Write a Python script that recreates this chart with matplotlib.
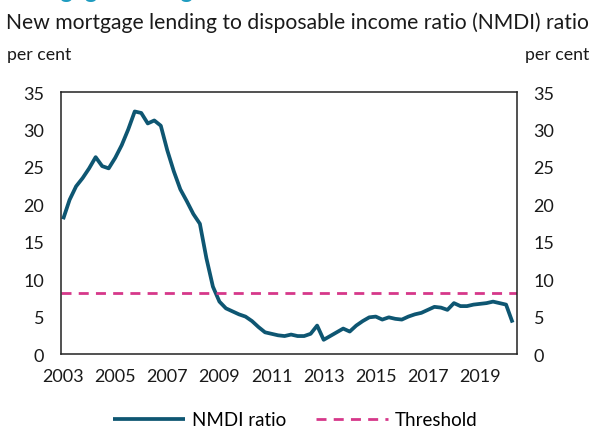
import matplotlib.pyplot as plt
import numpy as np

plt.rcParams['font.family'] = ['Lato', 'DejaVu Sans']

# quarterly, 2003Q1 .. 2020Q2
start_year = 2003
nmdi = [18.0, 20.6, 22.4, 23.5,
        24.8, 26.3, 25.1, 24.8,
        26.2, 27.9, 30.0, 32.4,
        32.2, 30.8, 31.2, 30.5,
        27.2, 24.4, 22.0, 20.4,
        18.7, 17.4, 12.8, 9.0,
        7.0, 6.1, 5.7, 5.3,
        5.0, 4.4, 3.6, 2.9,
        2.7, 2.5, 2.4, 2.6,
        2.4, 2.4, 2.7, 3.8,
        1.9, 2.4, 2.9, 3.4,
        3.0, 3.8, 4.4, 4.9,
        5.0, 4.6, 4.9, 4.7,
        4.6, 5.0, 5.3, 5.5,
        5.9, 6.3, 6.2, 5.9,
        6.8, 6.4, 6.4, 6.6,
        6.7, 6.8, 7.0, 6.8,
        6.6, 4.2]
threshold = 8.1
x_ticks = [2003, 2005, 2007, 2009, 2011, 2013, 2015, 2017, 2019]
y_ticks = [0, 5, 10, 15, 20, 25, 30, 35]

x = start_year + np.arange(len(nmdi)) / 4

fig = plt.figure(figsize=(5.91, 4.31), dpi=100)
ax = fig.add_axes([0.1032, 0.1763, 0.7716, 0.6079])

ax.plot(x, nmdi, color='#0E5672', lw=2.7, label='NMDI ratio', solid_capstyle='butt')
ax.axhline(threshold, color='#D6388A', lw=2.0, dashes=(3.6, 2.6), label='Threshold')

ax.set_xlim(2002.92, 2020.42)
ax.set_ylim(0, 35)
ax.set_xticks(x_ticks)
ax.set_xticklabels([str(t) for t in x_ticks])
ax.set_yticks(y_ticks)
ax.tick_params(axis='y', length=0, pad=12, labelsize=13, labelright=True, colors='#1a1a1a')
ax.tick_params(axis='x', length=0, pad=10, labelsize=13, colors='#1a1a1a')
for s in ax.spines.values():
    s.set_color('#222222')
    s.set_linewidth(1.1)

# heading sits mostly above the crop, only descenders show
fig.text(0.012, 1 + 2 / 431, 'Mortgage lending', color='#1F9CC0', fontsize=17,
         fontweight='bold', va='baseline', ha='left')
fig.text(0.010, 0.948, 'New mortgage lending to disposable income ratio (NMDI) ratio',
         fontsize=15.2, va='center', ha='left', color='#1a1a1a')
fig.text(0.012, 0.872, 'per cent', fontsize=12.8, va='center', ha='left', color='#1a1a1a')
fig.text(0.998, 0.872, 'per cent', fontsize=12.8, va='center', ha='right', color='#1a1a1a')

fig.legend(loc='center', bbox_to_anchor=(0.5, 0.024), ncol=2, frameon=False,
           fontsize=13.5, handlelength=3.8, handletextpad=0.4, columnspacing=1.6)

fig.savefig('out.png', dpi=100)
